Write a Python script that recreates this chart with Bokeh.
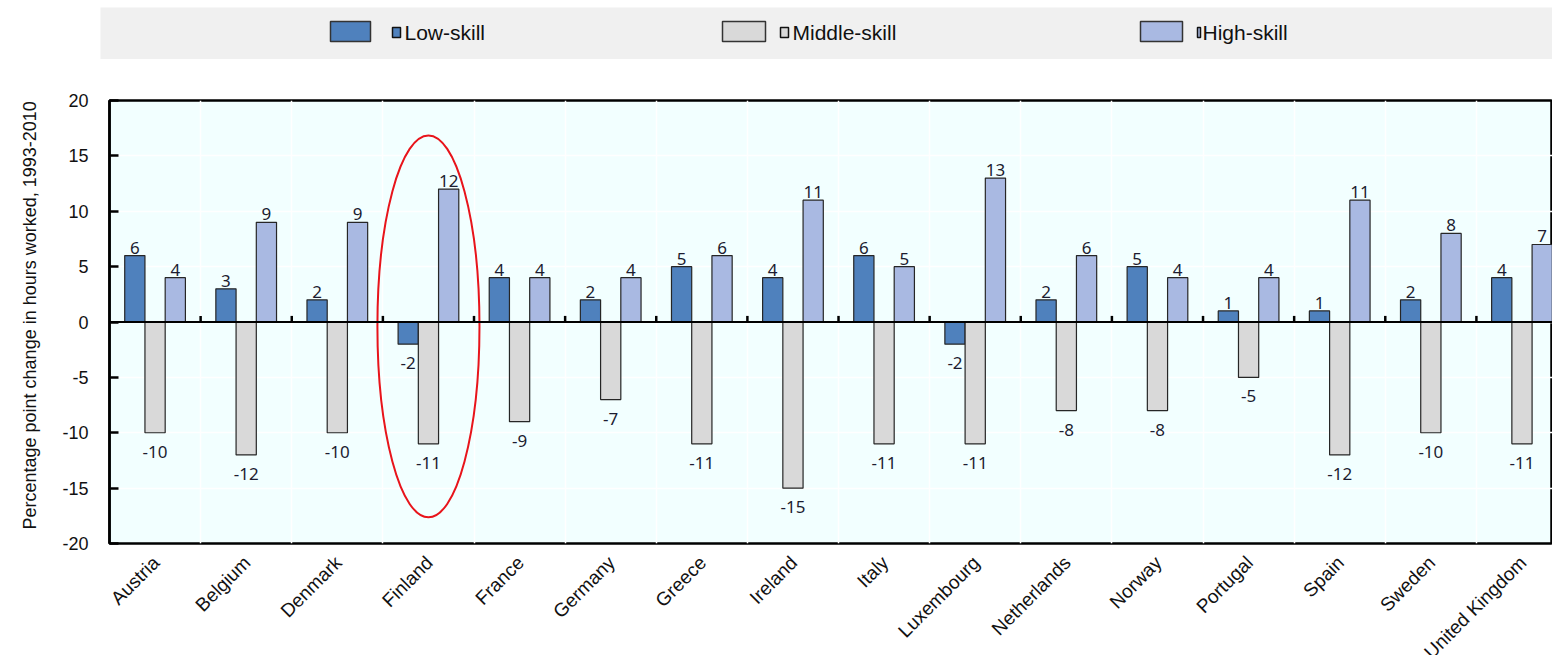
import numpy as np
from math import pi
from bokeh.plotting import figure
from bokeh.models import (Range1d, FixedTicker, ColumnDataSource, Span, Spacer, Title)
from bokeh.layouts import column, row
from bokeh.core.properties import value
from bokeh.embed import file_html
from bokeh.resources import INLINE

# ---------------- data ----------------
countries = ["Austria", "Belgium", "Denmark", "Finland", "France", "Germany", "Greece",
             "Ireland", "Italy", "Luxembourg", "Netherlands", "Norway", "Portugal",
             "Spain", "Sweden", "United Kingdom"]
low_skill = [6, 3, 2, -2, 4, 2, 5, 4, 6, -2, 2, 5, 1, 1, 2, 4]
middle_skill = [-10, -12, -10, -11, -9, -7, -11, -15, -11, -11, -8, -8, -5, -12, -10, -11]
high_skill = [4, 9, 9, 12, 4, 4, 6, 11, 5, 13, 6, 4, 4, 11, 8, 7]
series_names = ["Low-skill", "Middle-skill", "High-skill"]
y_ticks = [-20, -15, -10, -5, 0, 5, 10, 15, 20]
y_title = "Percentage point change in hours worked, 1993-2010"
highlight = "Finland"

# ---------------- styles / layout ----------------
colors = ["#4F81BD", "#D9D9D9", "#A9B9E2"]
offsets = [-0.222, 0.0, 0.222]
bar_w = 0.222
AX_FONT = "Liberation Sans"
LBL_FONT = "Noto Sans"
Y_MIN, Y_MAX = -20, 20
X_START, X_END = -0.5, 15.335
PAGE_W = 1552
LEFT = 109
MAIN_H = 494
STRIP_H = 102

idx = np.arange(len(countries))

p = figure(width=PAGE_W, height=MAIN_H, output_backend="svg", toolbar_location=None,
           x_range=Range1d(X_START, X_END), y_range=Range1d(Y_MIN, Y_MAX),
           min_border_left=LEFT, min_border_right=0, min_border_top=41,
           min_border_bottom=10, background_fill_color="#F2FFFF",
           border_fill_color="white", outline_line_color="black",
           outline_line_width=2.5)

# grid
p.xgrid.ticker = FixedTicker(ticks=[i + 0.5 for i in range(len(countries) - 1)])
p.ygrid.ticker = FixedTicker(ticks=y_ticks)
p.grid.grid_line_color = "white"
p.grid.grid_line_width = 1.5

# y axis
ya = p.yaxis[0]
ya.ticker = FixedTicker(ticks=y_ticks)
ya.major_label_overrides = {t: str(t) for t in y_ticks}
ya.major_tick_in = 9
ya.major_tick_out = 0
ya.minor_tick_line_color = None
ya.major_tick_line_width = 2.5
ya.major_tick_line_color = "black"
ya.axis_line_color = "black"
ya.axis_line_width = 2.5
ya.major_label_text_font = AX_FONT
ya.major_label_text_font_size = "18px"
ya.major_label_text_color = "#111111"
ya.major_label_standoff = 21

# y title as a side title, starting a little above the frame bottom
p.add_layout(Title(text=y_title, align="left", vertical_align="top", offset=14,
                   standoff=36, text_font=AX_FONT, text_font_size="18px",
                   text_font_style="normal", text_color="#111111"), "left")

p.xaxis.visible = False

# bars and labels
for vals, col, off in zip([low_skill, middle_skill, high_skill], colors, offsets):
    x = idx + off
    v = np.array(vals, dtype=float)
    src = ColumnDataSource(dict(x=x, top=v, bottom=np.zeros_like(v)))
    p.vbar(x="x", top="top", bottom="bottom", width=bar_w, source=src,
           fill_color=col, line_color="#262626", line_width=1.2)
    pos = v >= 0
    ps = ColumnDataSource(dict(x=x[pos], y=v[pos], t=[str(int(a)) for a in v[pos]]))
    ns = ColumnDataSource(dict(x=x[~pos], y=v[~pos], t=[str(int(a)) for a in v[~pos]]))
    p.text(x="x", y="y", text="t", source=ps, text_align="center",
           text_baseline="bottom", y_offset=-2, text_font=value(LBL_FONT),
           text_font_size="17px", text_color="#1c1c30")
    p.text(x="x", y="y", text="t", source=ns, text_align="center",
           text_baseline="top", y_offset=13, text_font=value(LBL_FONT),
           text_font_size="17px", text_color="#1c1c30")

# zero line and boundary tick marks on it
p.add_layout(Span(location=0, dimension="width", line_color="black", line_width=2))
bounds = idx[:-1] + 0.5
p.segment(x0=bounds, y0=np.zeros(len(bounds)), x1=bounds, y1=np.full(len(bounds), 0.55),
          line_color="black", line_width=2.5)

# highlight ellipse around Finland
hi = countries.index(highlight)
p.ellipse(x=[hi + 0.0], y=[-0.4], width=1.12, height=34.5, fill_color=None,
          line_color="#E8141B", line_width=2)

# ---------------- category label strip (shares the plot's x scale) ----------------
strip = figure(width=PAGE_W, height=STRIP_H, output_backend="svg", toolbar_location=None,
               x_range=p.x_range, y_range=Range1d(0, STRIP_H),
               min_border_left=LEFT, min_border_right=0, min_border_top=0,
               min_border_bottom=0, background_fill_color="white",
               border_fill_color="white", outline_line_color=None)
strip.axis.visible = False
strip.grid.visible = False
strip.text(x=idx, y=np.full(len(idx), STRIP_H), text=countries, angle=pi / 4,
           text_align="right", text_baseline="middle", x_offset=1, y_offset=6,
           text_font=value(AX_FONT), text_font_size="19px", text_color="#111111")

# ---------------- legend strip ----------------
lg = figure(width=1452, height=52, output_backend="svg", toolbar_location=None,
            x_range=Range1d(0, 1452), y_range=Range1d(0, 52),
            min_border=0, background_fill_color="#F0F0F0",
            border_fill_color="#F0F0F0", outline_line_color=None)
lg.axis.visible = False
lg.grid.visible = False
big_x = [250, 643.5, 1061]
big_w = [40, 43, 42]
small_x = [296, 684, 1098.5]
small_w = [8, 8, 3]
text_x = [304, 692, 1102]
lg.rect(x=big_x, y=[28] * 3, width=big_w, height=[20] * 3, fill_color=colors,
        line_color="#333333", line_width=1.5)
lg.rect(x=small_x, y=[27] * 3, width=small_w, height=[10] * 3, fill_color=colors,
        line_color="#111111", line_width=1.5)
lg.text(x=text_x, y=[27] * 3, text=series_names, text_baseline="middle",
        text_align="left", text_font=value(AX_FONT), text_font_size="21px",
        text_color="#111111")

layout = column(Spacer(width=10, height=7),
                row(Spacer(width=100, height=52), lg),
                p, strip, spacing=0)

open("out.html", "w").write(file_html(layout, INLINE))
